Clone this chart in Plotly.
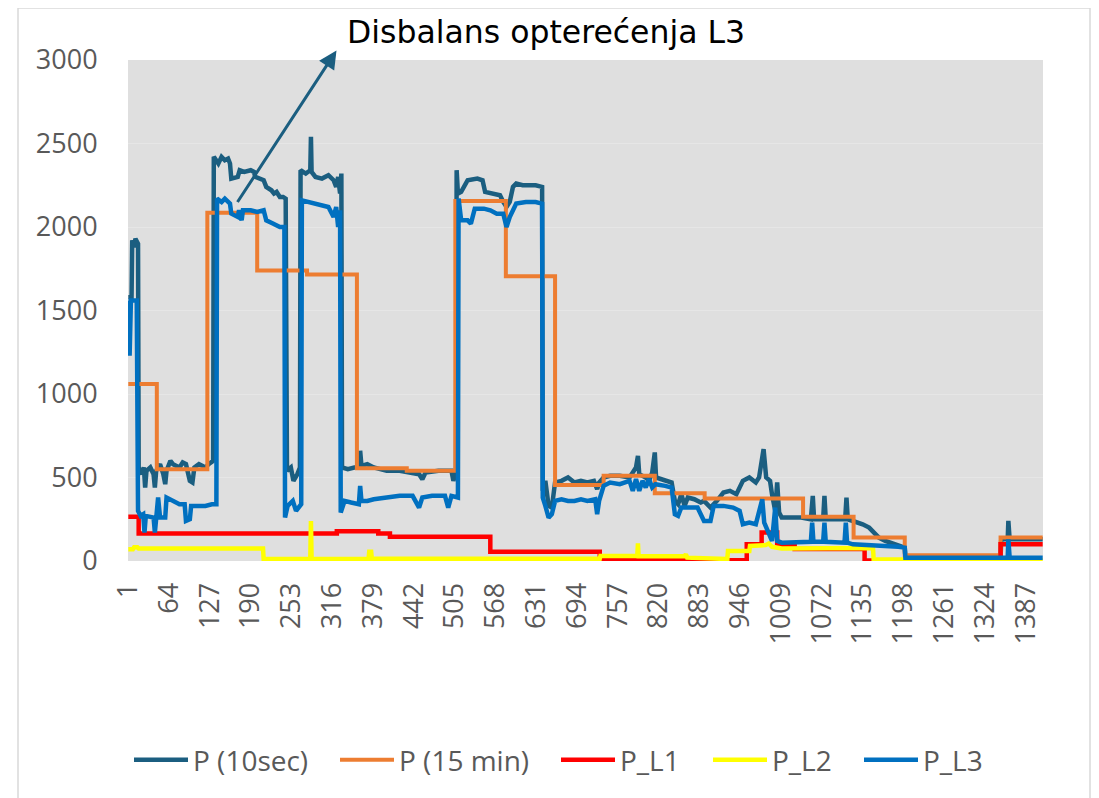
import plotly.graph_objects as go

# ---------------- data ----------------
N_POINTS = 1413
tick_labels = [1, 64, 127, 190, 253, 316, 379, 442, 505, 568, 631, 694, 757,
               820, 883, 946, 1009, 1072, 1135, 1198, 1261, 1324, 1387]

# P (10sec) – sample index / kW
p10_x = [1, 6, 7, 10, 12, 16, 17, 20, 22, 25, 27, 29, 35, 40, 42, 44, 50, 55, 58, 60,
         66, 70, 80, 85, 90, 96, 100, 103, 110, 115, 120, 125, 130, 132, 133, 140, 145,
         150, 155, 158, 160, 170, 173, 180, 190, 195, 197, 205, 210, 214, 222, 226, 230,
         235, 240, 244, 246, 252, 256, 262, 266, 267, 275, 282, 283, 284, 290, 300, 310,
         318, 322, 325, 328, 330, 331, 340, 350, 358, 359, 361, 370, 380, 390, 400, 420,
         440, 450, 455, 460, 480, 500, 503, 507, 508, 510, 515, 525, 540, 548, 552, 565,
         575, 580, 585, 590, 595, 600, 610, 630, 640, 641, 645, 650, 655, 660, 670, 680,
         690, 700, 710, 720, 725, 728, 735, 745, 760, 775, 785, 788, 790, 800, 805, 810,
         814, 816, 825, 835, 840, 845, 850, 855, 860, 865, 875, 885, 890, 900, 910, 920,
         930, 940, 950, 960, 970, 975, 982, 986, 992, 995, 1000, 1003, 1006, 1010, 1040,
         1055, 1058, 1060, 1074, 1076, 1078, 1108, 1110, 1112, 1120, 1135, 1145, 1160,
         1170, 1190, 1200, 1201, 1230, 1300, 1348, 1349, 1359, 1360, 1362, 1413]
p10_y = [1580, 1580, 1920, 1880, 1930, 1900, 560, 540, 520, 560, 440, 540, 560, 520, 440,
         540, 580, 520, 460, 540, 600, 580, 560, 590, 580, 480, 470, 560, 580, 570, 560,
         580, 590, 600, 2420, 2380, 2420, 2400, 2410, 2380, 2290, 2300, 2340, 2330, 2340,
         2330, 2300, 2290, 2280, 2240, 2220, 2200, 2210, 2180, 2180, 2170, 540, 560, 480,
         520, 560, 2340, 2320, 2340, 2540, 2330, 2300, 2290, 2310, 2280, 2240, 2300, 2200,
         2320, 560, 550, 560, 560, 660, 570, 580, 560, 550, 540, 540, 530, 520, 490, 530,
         540, 540, 480, 540, 2340, 2200, 2210, 2280, 2290, 2280, 2210, 2200, 2190, 2150,
         2120, 2150, 2240, 2260, 2250, 2250, 2240, 420, 480, 330, 320, 470, 480, 500, 470,
         480, 470, 480, 430, 470, 500, 510, 510, 500, 560, 630, 520, 500, 480, 530, 650,
         500, 490, 480, 470, 360, 340, 400, 330, 380, 370, 350, 360, 320, 360, 410, 420,
         400, 480, 500, 470, 500, 670, 500, 480, 400, 300, 470, 290, 260, 260, 250, 390,
         250, 250, 390, 250, 250, 380, 250, 240, 220, 200, 140, 120, 90, 80, 25, 20, 20,
         20, 130, 130, 240, 130, 130]

# P (15 min) – step values (start index of each step)
p15_x = [1, 45, 123, 200, 277, 354, 431, 506, 584, 660, 735, 814, 891, 1043, 1121,
         1200, 1348, 1413]
p15_y = [1060, 550, 2085, 1740, 1715, 555, 540, 2155, 1705, 455, 510, 405, 375, 265,
         140, 35, 140, 140]

# P_L1 – step values
l1_x = [1, 17, 323, 387, 405, 560, 729, 956, 979, 1003, 1030, 1138, 1348, 1413]
l1_y = [265, 165, 178, 165, 145, 55, 5, 100, 170, 90, 72, 3, 100, 100]

# P_L2
l2_x = [1, 8, 10, 15, 17, 209, 210, 282, 283, 284, 372, 373, 376, 377, 729, 730, 787,
        788, 789, 860, 862, 864, 926, 927, 960, 961, 985, 990, 995, 1010, 1151, 1152, 1413]
l2_y = [70, 70, 82, 82, 75, 75, 12, 12, 240, 12, 12, 55, 55, 14, 14, 30, 30, 105, 28,
        28, 40, 20, 12, 60, 60, 90, 95, 105, 85, 75, 78, 10, 5]

# P_L3
l3_x = [1, 3, 5, 14, 16, 20, 24, 26, 28, 40, 42, 44, 47, 50, 58, 60, 66, 80, 88, 90, 96,
        98, 120, 130, 137, 138, 145, 150, 158, 160, 170, 172, 176, 178, 190, 200, 210,
        214, 225, 235, 242, 243, 247, 255, 260, 265, 268, 269, 280, 290, 300, 310, 318,
        322, 325, 328, 329, 335, 345, 357, 359, 361, 370, 380, 400, 420, 440, 450, 455,
        470, 490, 495, 500, 510, 511, 515, 525, 530, 536, 550, 560, 570, 580, 585, 590,
        600, 615, 630, 640, 641, 645, 650, 655, 660, 670, 680, 690, 700, 710, 722, 725,
        728, 735, 745, 760, 775, 780, 785, 790, 795, 800, 805, 810, 815, 830, 840, 845,
        850, 855, 870, 880, 890, 900, 905, 920, 935, 945, 950, 960, 970, 980, 983, 990,
        995, 1000, 1003, 1010, 1055, 1057, 1059, 1074, 1076, 1078, 1107, 1109, 1111,
        1120, 1160, 1190, 1200, 1201, 1359, 1360, 1362, 1413]
l3_y = [1560, 1230, 1560, 1560, 300, 270, 280, 170, 270, 260, 170, 260, 380, 260, 260,
        380, 370, 340, 340, 240, 250, 330, 330, 340, 340, 2170, 2150, 2170, 2140, 2080,
        2060, 2100, 2040, 2100, 2100, 2090, 2100, 2040, 2020, 2000, 2000, 260, 330, 360,
        300, 330, 340, 2160, 2150, 2140, 2130, 2120, 2060, 2120, 2000, 2100, 290, 360,
        350, 340, 450, 360, 360, 370, 380, 390, 390, 320, 380, 390, 390, 320, 390, 380,
        2170, 2040, 2040, 2020, 2110, 2110, 2100, 2080, 2080, 2000, 2060, 2140, 2150,
        2150, 2140, 380, 330, 260, 280, 360, 370, 360, 360, 370, 360, 370, 280, 360, 450,
        470, 460, 480, 420, 490, 420, 480, 440, 490, 440, 460, 450, 440, 280, 270, 320,
        320, 320, 240, 240, 330, 330, 320, 300, 220, 230, 220, 370, 230, 160, 120, 320,
        120, 110, 115, 230, 115, 115, 230, 115, 110, 230, 110, 100, 95, 85, 80, 20, 20,
        130, 20, 20]

series_names = ["P (10sec)", "P (15 min)", "P_L1", "P_L2", "P_L3"]
series_colors = ["#1B5E80", "#ED7D31", "#FF0000", "#FFFF00", "#0070C0"]
legend_widths = [137, 152, 83, 82, 60]

annotation_title = "Disbalans opterećenja L3"

# ---------------- layout geometry (screen pixels) ----------------
OFF = 8                      # page body margin added by the browser
W, H = 1099 - OFF, 798 - OFF
PL, PR, PT, PB = 128, 1043, 60, 561   # plot area edges on screen


def px_x(p):
    return (p - PL) / (PR - PL)


def px_y(p):
    return (PB - p) / (PB - PT)


fig = go.Figure()
fig.add_trace(go.Scatter(x=p10_x, y=p10_y, mode="lines", name=series_names[0],
                         legendwidth=legend_widths[0],
                         line=dict(color=series_colors[0], width=4.5)))
fig.add_trace(go.Scatter(x=p15_x, y=p15_y, mode="lines", name=series_names[1],
                         legendwidth=legend_widths[1],
                         line=dict(color=series_colors[1], width=4, shape="hv")))
fig.add_trace(go.Scatter(x=l1_x, y=l1_y, mode="lines", name=series_names[2],
                         legendwidth=legend_widths[2],
                         line=dict(color=series_colors[2], width=4.5, shape="hv")))
fig.add_trace(go.Scatter(x=l2_x, y=l2_y, mode="lines", name=series_names[3],
                         legendwidth=legend_widths[3],
                         line=dict(color=series_colors[3], width=4.5)))
fig.add_trace(go.Scatter(x=l3_x, y=l3_y, mode="lines", name=series_names[4],
                         legendwidth=legend_widths[4],
                         line=dict(color=series_colors[4], width=4.5)))

tick_font = dict(family="Open Sans", size=27, color="#595959")

fig.update_layout(
    width=W, height=H,
    margin=dict(l=PL - OFF, r=W - (PR - OFF), t=PT - OFF, b=H - (PB - OFF),
                autoexpand=False),
    paper_bgcolor="white",
    plot_bgcolor="#DFDFDF",
    showlegend=True,
    legend=dict(orientation="h", x=px_x(129), xanchor="left", y=px_y(760),
                yanchor="middle", font=dict(family="Open Sans", size=28, color="#595959"),
                bgcolor="rgba(0,0,0,0)", itemwidth=54, tracegroupgap=0),
    xaxis=dict(range=[0.5, N_POINTS + 0.5], tickmode="array", tickvals=tick_labels,
               ticktext=[str(t) for t in tick_labels], tickangle=-90, tickfont=tick_font,
               showgrid=False, zeroline=False, showline=False, ticks="outside",
               ticklen=10, tickcolor="rgba(0,0,0,0)", automargin=False),
    yaxis=dict(range=[0, 3000], tickmode="linear", tick0=0, dtick=500, tickfont=tick_font,
               showgrid=True, gridcolor="#E6E6E6", gridwidth=1, zeroline=False,
               showline=False, ticks="outside", ticklen=24, tickcolor="rgba(0,0,0,0)",
               automargin=False),
    annotations=[
        dict(xref="paper", yref="paper", x=px_x(546), y=px_y(32), text=annotation_title,
             showarrow=False, xanchor="center", yanchor="middle",
             font=dict(family="DejaVu Sans", size=31.5, color="#000000")),
        dict(xref="paper", yref="paper", x=px_x(336.5), y=px_y(50.5), text="",
             showarrow=True, axref="pixel", ayref="pixel", ax=-100, ay=153,
             arrowhead=2, arrowsize=1.2, arrowwidth=3, arrowcolor="#1B5E80",
             standoff=0, startstandoff=0),
    ],
    shapes=[
        dict(type="rect", xref="paper", yref="paper", x0=px_x(18), x1=px_x(1090),
             y0=px_y(812), y1=px_y(8), line=dict(color="#D9D9D9", width=1.5),
             fillcolor="rgba(0,0,0,0)", layer="below"),
    ],
)

fig.write_html("out.html")
